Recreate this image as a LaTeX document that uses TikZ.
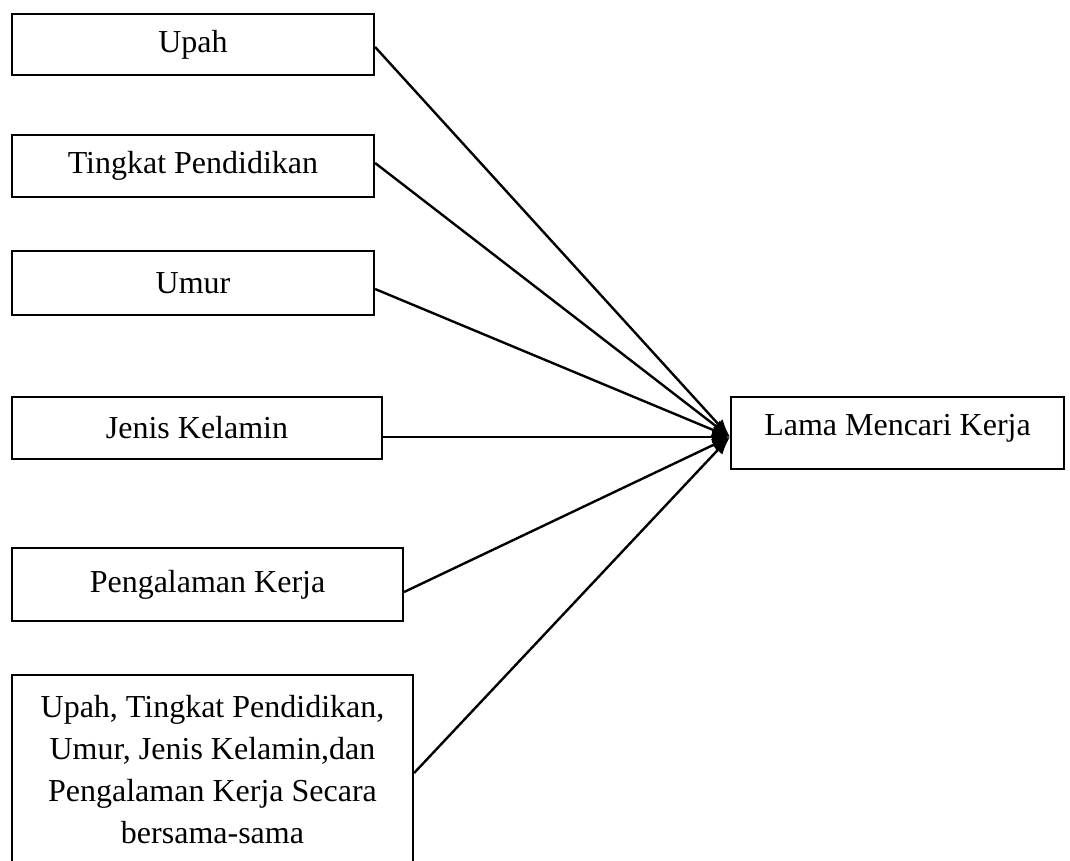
\documentclass[tikz,border=0pt]{standalone}
\usepackage{fontspec}
\setmainfont{Liberation Serif}
\usetikzlibrary{arrows.meta}
\begin{document}
\begin{tikzpicture}[x=1pt,y=-1pt,
  txt/.style={font=\fontsize{32}{42}\selectfont},
  box/.style={draw,line width=2.2pt,rectangle,inner sep=0pt,align=center,txt},
  conn/.style={line width=2.4pt,-{Latex[length=18pt,width=13pt]}}]
\useasboundingbox (0,0) rectangle (1070,860);
\node[box,minimum width=362pt,minimum height=61pt] (u) at (193,44.5) {Upah};
\node[box,minimum width=362pt,minimum height=62pt] (tp) at (193,166) {Tingkat Pendidikan};
\node[box,minimum width=362pt,minimum height=64pt] (um) at (193,283) {Umur};
\node[box,minimum width=370pt,minimum height=62pt] (jk) at (197,428) {Jenis Kelamin};
\node[box,minimum width=391pt,minimum height=73pt] (pk) at (207.5,584.5) {Pengalaman Kerja};
\node[box,minimum width=401pt,minimum height=190pt] (all) at (212.5,770)
  {Upah, Tingkat Pendidikan,\\Umur, Jenis Kelamin,dan\\Pengalaman Kerja Secara\\bersama-sama};
\node[box,minimum width=333pt,minimum height=72pt,
  label={[txt,yshift=5pt]center:Lama Mencari Kerja}] (lm) at (897.5,433) {};
\coordinate (tip) at (730,437);
\draw[conn] ([yshift=-2.5pt]u.east) -- (tip);
\draw[conn] ([yshift=3pt]tp.east) -- (tip);
\draw[conn] ([yshift=-6pt]um.east) -- (tip);
\draw[conn] ([yshift=-9pt]jk.east) -- (tip);
\draw[conn] ([yshift=-7.5pt]pk.east) -- (tip);
\draw[conn] ([yshift=-3pt]all.east) -- (tip);
\end{tikzpicture}
\end{document}
